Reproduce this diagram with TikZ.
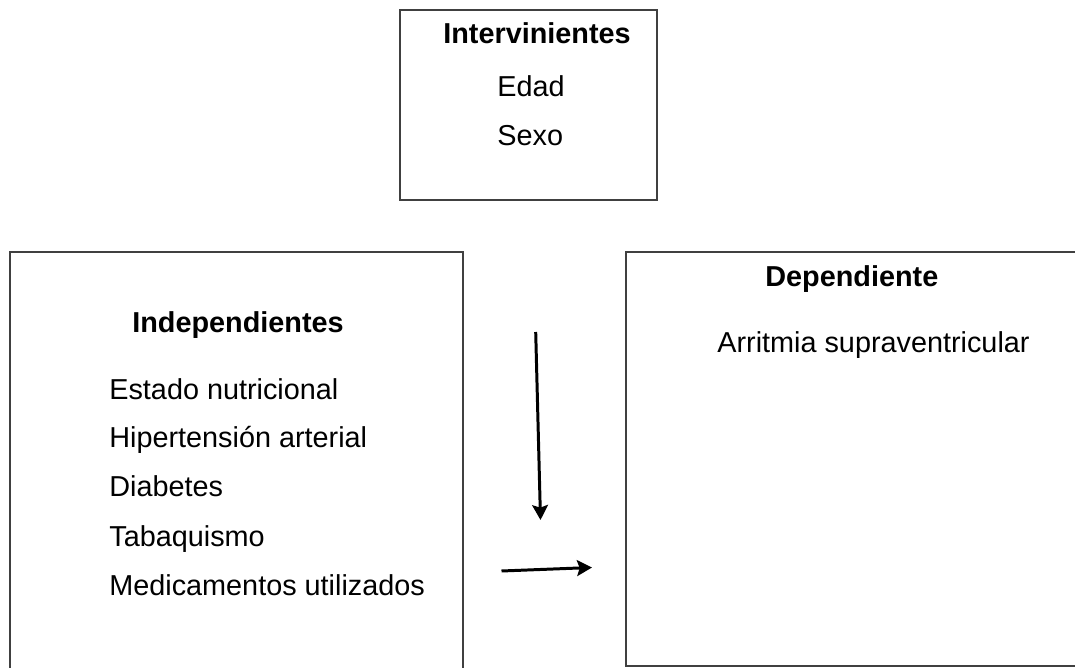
\documentclass[tikz,border=0pt]{standalone}
\usepackage{fontspec}
\setmainfont{Liberation Sans}
\usetikzlibrary{arrows.meta}

\begin{document}
\begin{tikzpicture}[x=0.02cm,y=-0.02cm]
				\tikzstyle{BOX} = [draw=black!75, line width=1.2pt]
				\tikzstyle{txt} = [inner sep=0pt, anchor=base west, font=\fontsize{16.4}{19}\selectfont]
				\tikzstyle{ttl} = [txt, font=\fontsize{16.4}{19}\selectfont\bfseries]
				\tikzstyle{ARR} = [-{Stealth[length=8.5pt,width=9pt,inset=1.5pt]}, line width=1.7pt, black]
				
				\useasboundingbox (0,0) rectangle (1075,668);
				\begin{scope}
				\clip (0,0) rectangle (1075,668);
				
				% intervinientes
				\draw [BOX] (400,10) rectangle (657,200);
				\node [ttl] (interv) at (443,44) {Intervinientes};
				\node [txt] (edad) at (497,97) {Edad};
				\node [txt] (sexo) at (497,146) {Sexo};
				
				% independientes
				\draw [BOX] (10,252) rectangle (463,700);
				\node [ttl] (indep) at (132,333) {Independientes};
				\node [txt] (estado) at (109,400) {Estado nutricional};
				\node [txt] (hta) at (109,448) {Hipertensión arterial};
				\node [txt] (diab) at (109,497) {Diabetes};
				\node [txt] (tabaq) at (109,546) {Tabaquismo};
				\node [txt] (medic) at (109,595) {Medicamentos utilizados};
				
				% dependiente
				\draw [BOX] (626,252) rectangle (1100,666);
				\node [ttl] (dep) at (765,287) {Dependiente};
				\node [txt] (arrit) at (717,353) {Arritmia supraventricular};
				
				% flechas
				\coordinate (v1) at (535.7,332);
				\coordinate (v2) at (540.5,520);
				\coordinate (h1) at (501.5,571);
				\coordinate (h2) at (592,567.5);
				\draw [ARR] (v1) -- (v2);
				\draw [ARR] (h1) -- (h2);
				\end{scope}
				
			\end{tikzpicture}
\end{document}
